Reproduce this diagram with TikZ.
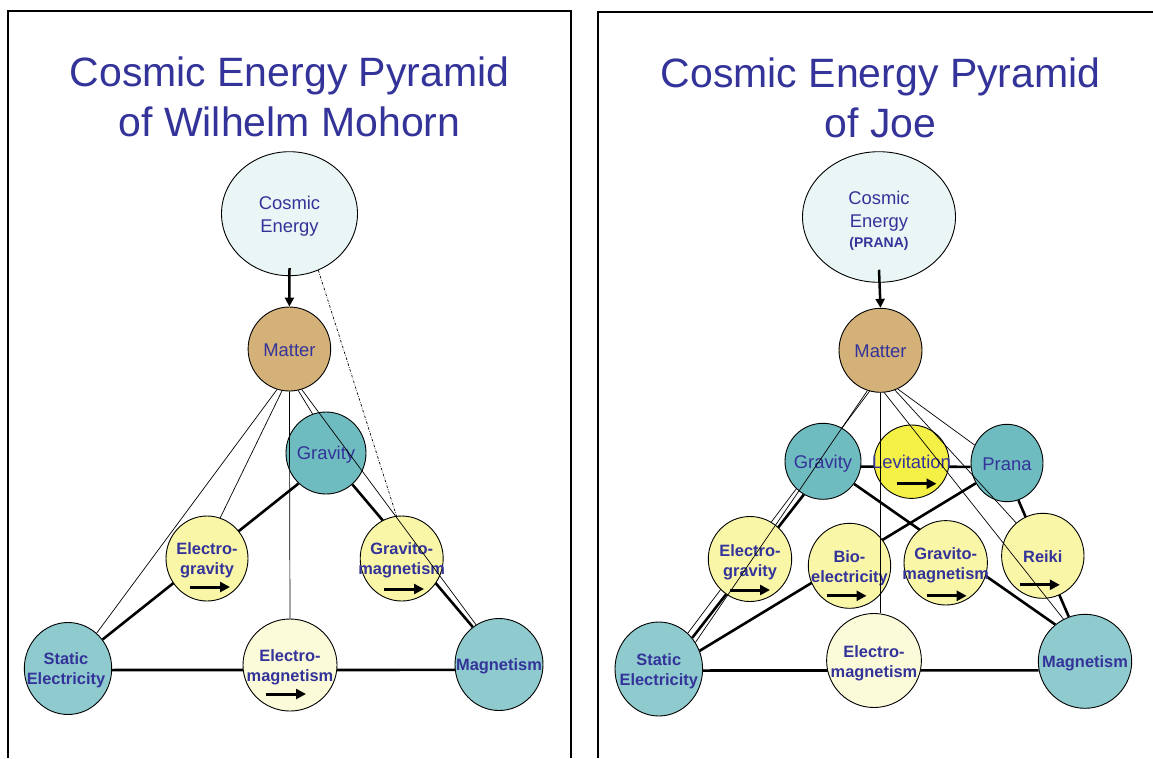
\documentclass[tikz,border=0pt]{standalone}
\usepackage{fontspec}
\setmainfont{Liberation Sans}
\usetikzlibrary{shapes.geometric,arrows.meta}
\pgfdeclarelayer{bg}
\pgfsetlayers{bg,main}
\definecolor{tblue}{RGB}{51,51,153}
\definecolor{cosfill}{RGB}{234,246,246}
\definecolor{matfill}{RGB}{212,177,120}
\definecolor{tealdk}{RGB}{111,188,192}
\definecolor{teallt}{RGB}{143,203,206}
\definecolor{yelfill}{RGB}{249,246,168}
\definecolor{palefill}{RGB}{251,251,217}
\definecolor{levfill}{RGB}{245,240,69}
\newcommand\inarr[3]{\draw[inarrow] ([xshift=#2pt,yshift=-#3pt]#1.center) -- ++(40,0);}
\begin{document}
\begin{tikzpicture}[x=1pt,y=-1pt,
  ball/.style={ellipse,draw=black,line width=0.9pt,inner sep=0pt},
  sz/.style 2 args={minimum width=#1pt,minimum height=#2pt},
  txt/.style={text=tblue,inner sep=0pt,align=center},
  reg/.style={font=\fontsize{18.4}{23}\selectfont},
  bld/.style={font=\bfseries\fontsize{16.4}{20}\selectfont},
  ttl/.style={text=tblue,inner sep=0pt,anchor=base,font=\fontsize{41}{50}\selectfont},
  thickline/.style={line width=2.6pt},
  thinline/.style={line width=0.7pt},
  dashdotline/.style={line width=0.7pt,dash pattern=on 2.5pt off 1.5pt on 0.6pt off 1.5pt},
  bigarrow/.style={line width=2.5pt,-{Triangle[length=9pt,width=9pt]}},
  inarrow/.style={line width=3pt,-{Triangle[length=10pt,width=10pt]}},
  panel/.style={line width=2pt}]
\useasboundingbox (0,0) rectangle (1153,758);
% panels
\draw[panel] (8,758) -- (8,11) -- (571,11) -- (571,758);
\draw[panel] (598,758) -- (598,12) -- (1153,12);
% titles
\node[ttl] (tL1) at (289.5,86) {Cosmic Energy Pyramid};
\node[ttl] (tL2) at (289.5,136) {of Wilhelm Mohorn};
\node[ttl] (tR1) at (880.6,87) {Cosmic Energy Pyramid};
\node[ttl] (tR2) at (880.6,137) {of Joe};

% ---------- left nodes
\node[ball,fill=cosfill,sz={136}{124}] (cosL) at (289.5,213.7) {};
\node[txt,reg] (cosLt) at (289.5,216.5) {Cosmic\\Energy};
\node[ball,fill=matfill,sz={82.6}{84}] (matL) at (289.4,349) {};
\node[txt,reg] (matLt) at (289.4,350) {Matter};
\node[ball,fill=tealdk,sz={80}{82}] (gravL) at (326,453) {};
\node[txt,reg] (gravLt) at (326,455) {Gravity};
\node[ball,fill=yelfill,sz={82}{85}] (egL) at (207,558.5) {};
\node[txt,bld] (egLt) at (207,560) {Electro-\\gravity};
\node[ball,fill=yelfill,sz={83}{85}] (gmL) at (401.7,558.5) {};
\node[txt,bld] (gmLt) at (401.7,560) {Gravito-\\magnetism};
\node[ball,fill=teallt,sz={87.4}{92}] (seL) at (68,668.5) {};
\node[txt,bld] (seLt) at (66,670) {Static\\Electricity};
\node[ball,fill=palefill,sz={94}{92}] (emL) at (290,665) {};
\node[txt,bld] (emLt) at (290,667.5) {Electro-\\magnetism};
\node[ball,fill=teallt,sz={88}{92}] (magL) at (499,664.5) {};
\node[txt,bld] (magLt) at (499,666) {Magnetism};

% ---------- right nodes
\node[ball,fill=cosfill,sz={153}{130.6}] (cosR) at (879,217) {};
\node[txt,reg] (cosRt) at (879,220.5) {Cosmic\\Energy\\[-3.4pt]{\bfseries\fontsize{14}{23}\selectfont (PRANA)}};
\node[ball,fill=matfill,sz={83}{84}] (matR) at (880.5,350.3) {};
\node[txt,reg] (matRt) at (880.5,351.5) {Matter};
\node[ball,fill=tealdk,sz={76}{76}] (gravR) at (823,461.3) {};
\node[txt,reg] (gravRt) at (823,464) {Gravity};
\node[ball,fill=levfill,sz={75}{73.4}] (levR) at (911.5,461.7) {};
\node[txt,reg] (levRt) at (911.5,461.7) {Levitation};
\node[ball,fill=tealdk,sz={72}{77.4}] (praR) at (1007,463) {};
\node[txt,reg] (praRt) at (1007,464.5) {Prana};
\node[ball,fill=yelfill,sz={83.4}{85}] (egR) at (750,559) {};
\node[txt,bld] (egRt) at (750,562) {Electro-\\gravity};
\node[ball,fill=yelfill,sz={82.4}{85}] (bioR) at (849.5,565.8) {};
\node[txt,bld] (bioRt) at (849.5,568) {Bio-\\electricity};
\node[ball,fill=yelfill,sz={83.4}{84.4}] (gmR) at (945.7,562.8) {};
\node[txt,bld] (gmRt) at (945.7,565) {Gravito-\\magnetism};
\node[ball,fill=yelfill,sz={82.4}{85}] (reiR) at (1042.8,555.8) {};
\node[txt,bld] (reiRt) at (1042.8,556.5) {Reiki};
\node[ball,fill=teallt,sz={87.6}{94}] (seR) at (658.8,669) {};
\node[txt,bld] (seRt) at (658.8,671) {Static\\Electricity};
\node[ball,fill=palefill,sz={94.8}{94}] (emR) at (874,660.5) {};
\node[txt,bld] (emRt) at (874,663) {Electro-\\magnetism};
\node[ball,fill=teallt,sz={93.4}{94}] (magR) at (1085,661.3) {};
\node[txt,bld] (magRt) at (1085,663) {Magnetism};

% ---------- background (hidden behind nodes)
\begin{pgfonlayer}{bg}
\fill[white] (0,0) rectangle (1153,758);
\draw[thickline] (seL.40.7) -- (gravL.-132);
\draw[thickline] (gravL.-50) -- (magL.125.5);
\draw[thickline] (seL.-2) -- (magL.187);
\draw[thickline] (gravR.-8) -- (praR.186);
\draw[thickline] (seR.43) -- (gravR.-120.7);
\draw[thickline] (seR.24) -- (praR.-147.6);
\draw[thickline] (gravR.-36.5) -- (magR.129.6);
\draw[thickline] (praR.-73) -- (magR.110.5);
\draw[thickline] (seR.-2) -- (magR.191.5);
\draw[thinline] (matR.-105.4) -- (seR.51);
\end{pgfonlayer}

% ---------- left connectors on top
\draw[thinline] (matL.-107.7) -- (seL.51.5);
\draw[thinline] (matL.-100.6) -- (egL.72.5);
\draw[thinline] (matL.south) -- (emL.north);
\draw[thinline] (matL.-78.7) -- (gravL.109);
\draw[thinline] (matL.-73) -- (magL.120);
\draw[dashdotline] (cosL.-63) -- (gmL.97);
\draw[bigarrow] ([yshift=8pt]cosL.south) -- (matL.north);
\inarr{egL}{-17}{28.5}
\inarr{gmL}{-17.7}{30.5}
\inarr{emL}{-24}{29}

% ---------- right connectors on top
\draw[thinline] (matR.-108.4) -- (seR.36.4);
\draw[thinline] (matR.south) -- (matR.south |- emR.north);
\draw[thinline] (matR.-85) -- (magR.117);
\draw[thinline] (matR.-70) -- (reiR.129);
\draw[thinline] (matR.-66) -- (praR.151.7);
\draw[bigarrow] ([yshift=13pt]cosR.south) -- (matR.north);
\inarr{levR}{-15}{22}
\inarr{egR}{-20}{31}
\inarr{bioR}{-23}{30}
\inarr{gmR}{-19}{33}
\inarr{reiR}{-23}{29}
\end{tikzpicture}
\end{document}
